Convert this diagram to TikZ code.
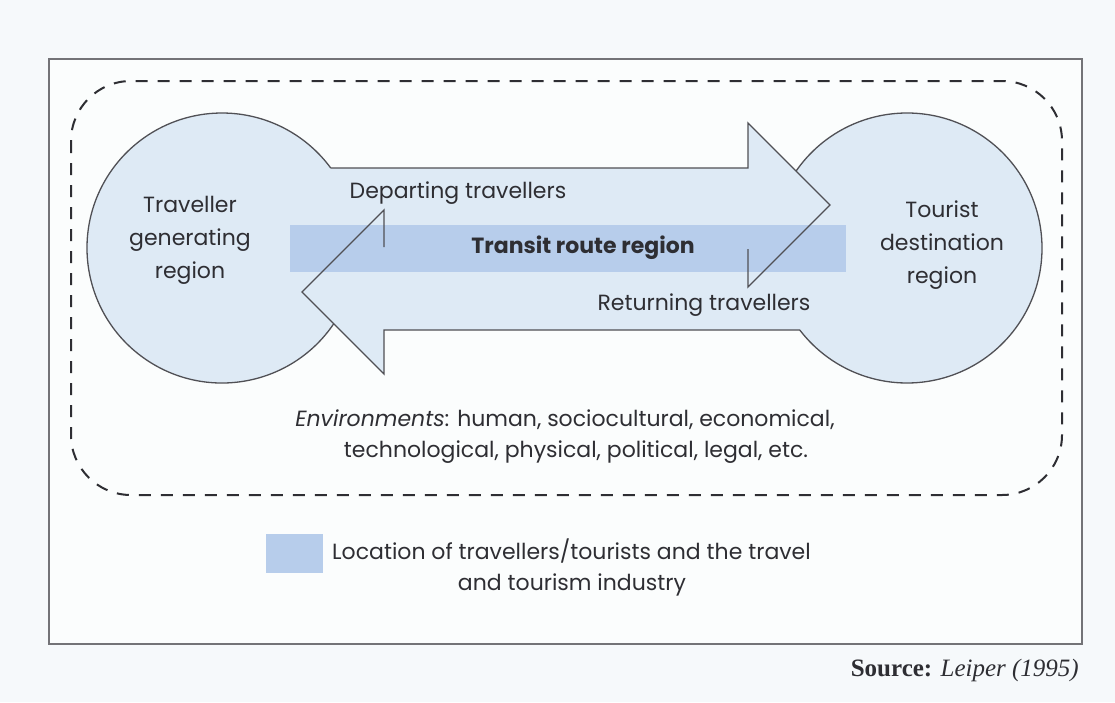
\documentclass[tikz,border=0pt]{standalone}
\usepackage{fontspec}
\setmainfont{Poppins}
\newfontfamily\srcfont{Liberation Serif}
\definecolor{bg}{HTML}{F6F9FB}
\definecolor{lb}{HTML}{DEEAF5}
\definecolor{band}{HTML}{B7CDEB}
\definecolor{ln}{HTML}{505055}
\definecolor{txt}{HTML}{2E2E33}
\tikzset{
  outline/.style={draw=ln, line width=1.3pt, line join=miter},
  envline/.style={draw=txt, line width=2pt, dash pattern=on 12pt off 10pt},
  lbl/.style={font=\fontsize{22}{33}\selectfont, text=txt, align=center, inner sep=0pt},
}
\begin{document}
\begin{tikzpicture}[x=1pt,y=-1pt]
\useasboundingbox (0,0) rectangle (1115,702);
\fill[bg] (0,0) rectangle (1115,702);
% frame
\node[draw=ln!80, line width=1.2pt, fill=white!60!bg, minimum width=1033pt, minimum height=585pt, inner sep=0pt] (frame) at (565.5,351.5) {};
% coordinates
\coordinate (C1) at (222,248);
\coordinate (C2) at (907,248);
% fills
\fill[lb] (C1) circle[radius=135];
\fill[lb] (C2) circle[radius=135];
\fill[lb] (260,168) -- (748,168) -- (748,123) -- (830,205) -- (748,287) -- (748,249) -- (260,249) -- cycle;
\fill[lb] (850,247) -- (384,247) -- (384,210) -- (302,292) -- (384,374) -- (384,330) -- (850,330) -- cycle;
% band
\node[fill=band, minimum width=556pt, minimum height=47pt, inner sep=0pt] (bandbox) at (568,248.5) {};
% outlines
\draw[outline] ([shift={(34.13:135)}]C1) arc[start angle=34.13, end angle=323.65, radius=135];
\draw[outline] ([shift={(214.7:135)}]C2) arc[start angle=214.7, end angle=502.6, radius=135];
\draw[outline] (330.7,168) -- (748,168) -- (748,123) -- (830,205) -- (748,287) -- (748,249);
\draw[outline] (799.8,330) -- (384,330) -- (384,374) -- (302,292) -- (384,210) -- (384,247);
% environment boundary
\draw[envline, rounded corners=60pt] (71,81) rectangle (1062,495);
% texts
\node[lbl] (gen) at (190,240) {Traveller\\generating\\region};
\node[lbl] (dest) at (942,245) {Tourist\\destination\\region};
\node[lbl] (dep) at (458,193) {Departing travellers};
\node[lbl, font=\fontsize{22}{33}\selectfont\bfseries] (transit) at (583,248) {Transit route region};
\node[lbl] (ret) at (704,305) {Returning travellers};
\node[lbl] (env1) at (565,420) {\textit{Environments}: human, sociocultural, economical,};
\node[lbl] (env2) at (576,452) {technological, physical, political, legal, etc.};
\node[fill=band, minimum width=57pt, minimum height=39pt, inner sep=0pt] (swatch) at (294.5,553.5) {};
\node[lbl, anchor=west] (leg1) at (332,551) {Location of travellers/tourists and the travel};
\node[lbl] (leg2) at (572,585) {and tourism industry};
\node[anchor=east, inner sep=0pt, text=txt, font=\srcfont\fontsize{25}{28}\selectfont] (src) at (1079,670) {\textbf{Source:} \textit{Leiper (1995)}};
\end{tikzpicture}
\end{document}
